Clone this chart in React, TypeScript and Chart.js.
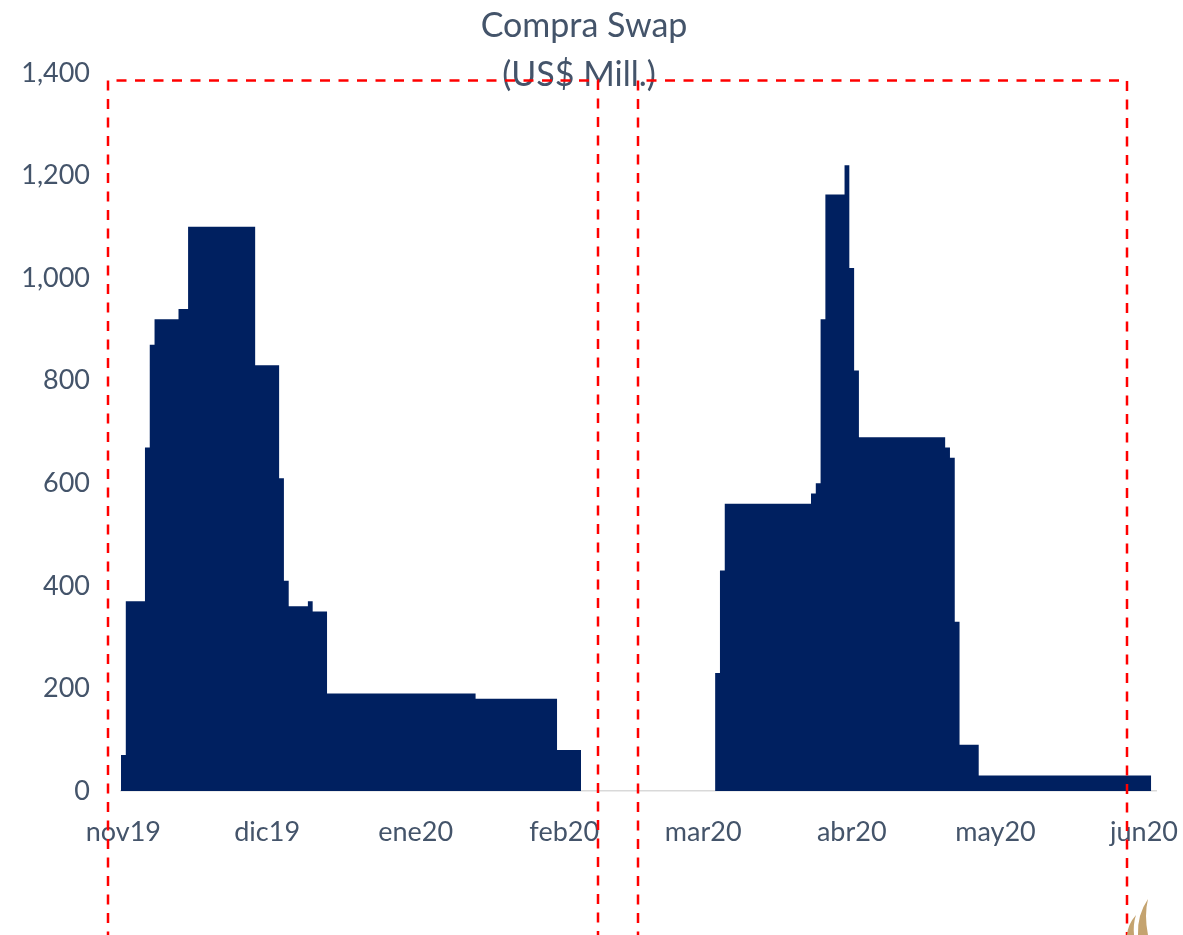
import React, { useEffect, useRef } from 'react';
import { Chart, registerables } from 'chart.js';

Chart.register(...registerables);

// ---- data ----
const AXIS_FIRST_DATE = '2019-11-01';
const AXIS_LAST_DATE = '2020-06-03';

// date on which each step starts, and the value (US$ Mill.) it holds until the next step
const stepDates = [
  '2019-11-01', '2019-11-02', '2019-11-06', '2019-11-07', '2019-11-08', '2019-11-13',
  '2019-11-15', '2019-11-29', '2019-12-04', '2019-12-05', '2019-12-06', '2019-12-10',
  '2019-12-11', '2019-12-14', '2020-01-14', '2020-01-31', '2020-02-05',
  '2020-03-04', '2020-03-05', '2020-03-06', '2020-03-24', '2020-03-25', '2020-03-26',
  '2020-03-27', '2020-03-31', '2020-04-01', '2020-04-02', '2020-04-03', '2020-04-21',
  '2020-04-22', '2020-04-23', '2020-04-24', '2020-04-28',
];
const stepValues = [
  70, 370, 670, 870, 920, 940,
  1100, 830, 610, 410, 360, 370,
  350, 190, 180, 80, 0,
  230, 430, 560, 580, 600, 920,
  1163, 1220, 1020, 820, 690, 670,
  650, 330, 90, 30,
];
const seriesEndDate = '2020-06-03'; // first day without data after the last step

const monthTickDates = [
  '2019-11-01', '2019-12-01', '2020-01-01', '2020-02-01',
  '2020-03-01', '2020-04-01', '2020-05-01', '2020-06-01',
];
const monthTickLabels = ['nov19', 'dic19', 'ene20', 'feb20', 'mar20', 'abr20', 'may20', 'jun20'];
const yTickValues = [0, 200, 400, 600, 800, 1000, 1200, 1400];

const titleLines = ['Compra Swap', '(US$ Mill.)'];

// ---- helpers ----
const DAY = 86400000;
const dayIndex = (d: string) => Math.round((Date.parse(d) - Date.parse(AXIS_FIRST_DATE)) / DAY);

const TEXT_COLOR = '#44546A';
const FONT = 'Lato, "Open Sans", sans-serif';

const overlayPlugin = {
  id: 'overlay',
  afterDraw(chart: any) {
    const ctx = chart.ctx as CanvasRenderingContext2D;
    ctx.save();
    // title
    ctx.fillStyle = TEXT_COLOR;
    ctx.font = `34px ${FONT}`;
    ctx.textAlign = 'center';
    ctx.textBaseline = 'alphabetic';
    ctx.fillText(titleLines[0], 584, 37);
    ctx.fillText(titleLines[1], 579, 86);

    // red dashed frames
    ctx.strokeStyle = '#FF0000';
    ctx.lineWidth = 2.5;
    ctx.setLineDash([10, 8.5]);
    const frames = [
      [108, 598],
      [638, 1127],
    ];
    frames.forEach(([l, r]) => {
      ctx.beginPath();
      ctx.moveTo(l, 960);
      ctx.lineTo(l, 80.5);
      ctx.lineTo(r, 80.5);
      ctx.lineTo(r, 960);
      ctx.stroke();
    });
    ctx.setLineDash([]);

    // small logo corner
    ctx.fillStyle = '#C4A36F';
    ctx.beginPath();
    ctx.moveTo(1148, 899);
    ctx.quadraticCurveTo(1137, 915, 1138, 935);
    ctx.lineTo(1148, 935);
    ctx.quadraticCurveTo(1144, 915, 1148, 899);
    ctx.fill();
    ctx.beginPath();
    ctx.moveTo(1136, 915);
    ctx.quadraticCurveTo(1128, 924, 1127, 935);
    ctx.lineTo(1134, 935);
    ctx.quadraticCurveTo(1133, 924, 1136, 915);
    ctx.fill();
    ctx.restore();
  },
};

export default function App() {
  const canvasRef = useRef<HTMLCanvasElement | null>(null);

  useEffect(() => {
    if (!canvasRef.current) return;
    const points = stepDates.map((d, i) => ({ x: dayIndex(d) - 0.5, y: stepValues[i] }));
    points.push({ x: dayIndex(seriesEndDate) - 0.5, y: stepValues[stepValues.length - 1] });
    const tickValues = monthTickDates.map(dayIndex);

    const chart = new Chart(canvasRef.current, {
      type: 'line',
      data: {
        datasets: [
          {
            label: 'Compra Swap',
            data: points,
            stepped: 'before',
            fill: 'origin',
            backgroundColor: '#002060',
            borderColor: 'rgba(0,0,0,0)',
            borderWidth: 0,
            pointRadius: 0,
            pointHoverRadius: 0,
          },
        ],
      },
      options: {
        animation: false,
        responsive: false,
        devicePixelRatio: 1,
        layout: { padding: { top: 73, right: 27, bottom: 84, left: 0 } },
        plugins: {
          legend: { display: false },
          title: { display: false },
          tooltip: { enabled: false },
        },
        scales: {
          x: {
            type: 'linear',
            min: dayIndex(AXIS_FIRST_DATE) - 0.5,
            max: dayIndex(AXIS_LAST_DATE) + 0.5,
            grid: { display: false, drawTicks: false },
            border: { display: true, color: '#D9D9D9', width: 1.5 },
            afterBuildTicks: (scale: any) => {
              scale.ticks = tickValues.map((v) => ({ value: v }));
            },
            afterFit: (scale: any) => {
              scale.height = 60;
              scale.paddingLeft = 0;
              scale.paddingRight = 0;
            },
            ticks: {
              autoSkip: false,
              maxRotation: 0,
              minRotation: 0,
              padding: 25,
              color: TEXT_COLOR,
              font: { family: FONT, size: 27 },
              callback: (value: any) => {
                const i = tickValues.indexOf(Number(value));
                return i >= 0 ? monthTickLabels[i] : '';
              },
            },
          },
          y: {
            type: 'linear',
            min: 0,
            max: 1400,
            grid: { display: false, drawTicks: false },
            border: { display: false },
            afterBuildTicks: (scale: any) => {
              scale.ticks = yTickValues.map((v) => ({ value: v }));
            },
            afterFit: (scale: any) => {
              scale.width = 121;
              scale.paddingTop = 0;
              scale.paddingBottom = 0;
            },
            ticks: {
              padding: 31,
              color: TEXT_COLOR,
              font: { family: FONT, size: 27 },
              callback: (value: any) => Number(value).toLocaleString('en-US'),
            },
          },
        },
      },
      plugins: [overlayPlugin],
    });
    return () => chart.destroy();
  }, []);

  return (
    <div style={{ position: 'fixed', left: 0, top: 0, width: 1183, height: 935, background: '#fff' }}>
      <canvas ref={canvasRef} width={1183} height={935} style={{ display: 'block' }} />
    </div>
  );
}
